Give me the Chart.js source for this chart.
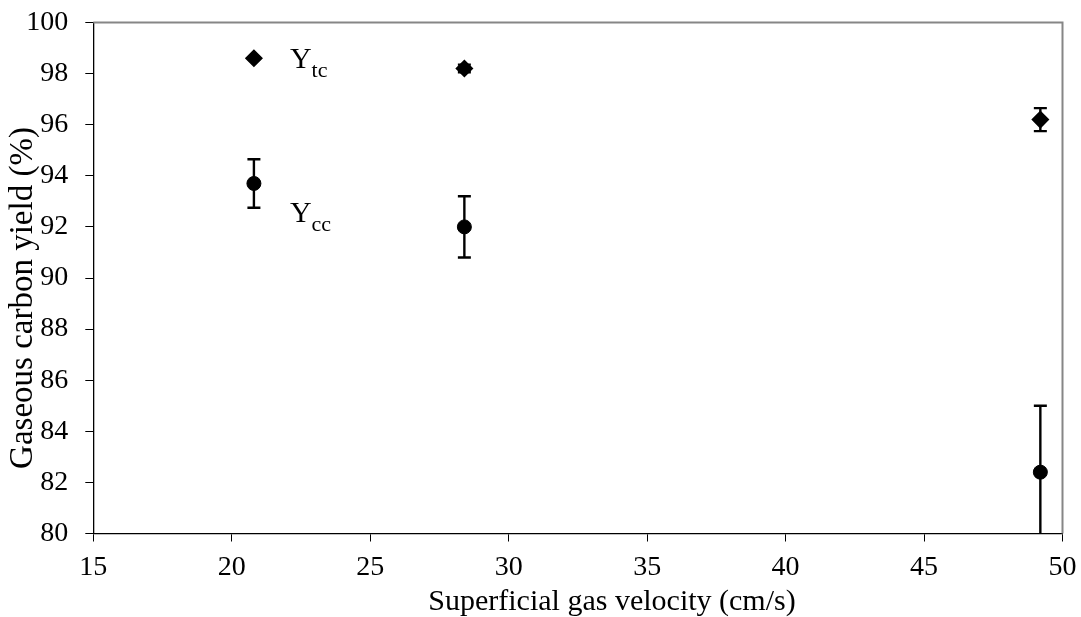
<!DOCTYPE html>
<html lang="en">
<head>
<meta charset="UTF-8">
<title>Gaseous carbon yield</title>
<script src="https://cdn.jsdelivr.net/npm/chart.js"></script>
<style>
    body { margin: 0; background: #fff; }
    #box { width: 1081px; height: 617px; }
</style>
</head>
<body>
<div id="box"><canvas id="grafico" width="1081" height="617"></canvas></div>

<script>
    // superficial gas velocity (cm/s)
    var velocidade = [20.8, 28.4, 49.2];
    // total carbon yield Ytc (%) and its error
    var ytc = [98.6, 98.2, 96.2];
    var ytcErro = [0, 0.15, 0.45];
    // carbon yield Ycc (%) and its error
    var ycc = [93.7, 92.0, 82.4];
    var yccErro = [0.95, 1.2, 2.6];

    var ticksX = [15, 20, 25, 30, 35, 40, 45, 50];
    var ticksY = [80, 82, 84, 86, 88, 90, 92, 94, 96, 98, 100];

    // where the series names sit, in axis units
    var rotulos = [
        { base: 'Y', sub: 'tc', x: 22.1, y: 98.22 },
        { base: 'Y', sub: 'cc', x: 22.1, y: 92.2 }
    ];

    var fonte = 'Liberation Serif, Times New Roman, serif';
    var tituloX = 'Superficial gas velocity (cm/s)';
    var tituloY = 'Gaseous carbon yield (%)';

    function pontos(ys, erros) {
        var out = [];
        for (var i = 0; i < velocidade.length; i++) {
            out.push({ x: velocidade[i], y: ys[i], err: erros[i] });
        }
        return out;
    }

    // error bars under the markers, frame and titles on top
    var extras = {
        id: 'extras',
        beforeDatasetsDraw: function (chart) {
            var ctx = chart.ctx, sx = chart.scales.x, sy = chart.scales.y, a = chart.chartArea;
            ctx.save();
            ctx.beginPath();
            ctx.rect(a.left, a.top - 10, a.right - a.left, a.bottom - a.top + 10);
            ctx.clip();
            ctx.strokeStyle = '#000';
            ctx.lineWidth = 2.4;
            chart.data.datasets.forEach(function (ds) {
                ds.data.forEach(function (p) {
                    if (!p.err) return;
                    var px = sx.getPixelForValue(p.x);
                    var top = sy.getPixelForValue(p.y + p.err);
                    var bot = sy.getPixelForValue(p.y - p.err);
                    ctx.beginPath();
                    ctx.moveTo(px, top); ctx.lineTo(px, bot);
                    ctx.moveTo(px - 6.5, top); ctx.lineTo(px + 6.5, top);
                    ctx.moveTo(px - 6.5, bot); ctx.lineTo(px + 6.5, bot);
                    ctx.stroke();
                });
            });
            ctx.restore();
        },
        afterDraw: function (chart) {
            var ctx = chart.ctx, a = chart.chartArea, sx = chart.scales.x, sy = chart.scales.y;
            ctx.save();
            // gray frame on top and right
            ctx.strokeStyle = '#868686';
            ctx.lineWidth = 2;
            ctx.beginPath();
            ctx.moveTo(a.left, a.top);
            ctx.lineTo(a.right, a.top);
            ctx.lineTo(a.right, a.bottom);
            ctx.stroke();

            ctx.fillStyle = '#000';
            // axis titles
            ctx.textAlign = 'center';
            ctx.textBaseline = 'middle';
            ctx.font = '30px ' + fonte;
            ctx.fillText(tituloX, 612, 602);
            ctx.font = '33px ' + fonte;
            ctx.translate(23, 298);
            ctx.rotate(-Math.PI / 2);
            ctx.fillText(tituloY, 0, 0);
            ctx.setTransform(1, 0, 0, 1, 0, 0);

            // series names with subscripts
            ctx.textBaseline = 'alphabetic';
            ctx.textAlign = 'left';
            rotulos.forEach(function (r) {
                var x = sx.getPixelForValue(r.x), y = sy.getPixelForValue(r.y);
                ctx.font = '30px ' + fonte;
                ctx.fillText(r.base, x, y);
                var w = ctx.measureText(r.base).width;
                ctx.font = '22px ' + fonte;
                ctx.fillText(r.sub, x + w, y + 9);
            });
            ctx.restore();
        }
    };

    var dados = {
        datasets: [
            {
                label: 'Ytc',
                data: pontos(ytc, ytcErro),
                pointStyle: 'rectRot',
                pointRadius: 8,
                backgroundColor: '#000',
                borderColor: '#000',
                borderWidth: 1.5,
                showLine: false
            },
            {
                label: 'Ycc',
                data: pontos(ycc, yccErro),
                pointStyle: 'circle',
                pointRadius: 7,
                backgroundColor: '#000',
                borderColor: '#000',
                borderWidth: 1,
                showLine: false
            }
        ]
    };

    const config = {
        type: 'scatter',
        data: dados,
        options: {
            responsive: false,
            animation: false,
            layout: { padding: { top: 22.5, right: 18.5, left: 0, bottom: 0 } },
            plugins: {
                legend: { display: false },
                tooltip: { enabled: false }
            },
            scales: {
                x: {
                    type: 'linear',
                    min: 15,
                    max: 50,
                    afterBuildTicks: function (s) { s.ticks = ticksX.map(function (v) { return { value: v }; }); },
                    afterFit: function (s) { s.height = 83.5; s.paddingLeft = 0; s.paddingRight = 0; },
                    grid: { drawOnChartArea: false, drawTicks: true, tickLength: 8, color: '#000', tickWidth: 1 },
                    border: { display: true, color: '#000', width: 1.3 },
                    ticks: { color: '#000', padding: 9, font: { family: fonte, size: 28 }, maxRotation: 0 }
                },
                y: {
                    type: 'linear',
                    min: 80,
                    max: 100,
                    afterBuildTicks: function (s) { s.ticks = ticksY.map(function (v) { return { value: v }; }); },
                    afterFit: function (s) { s.width = 93.3; s.paddingTop = 0; s.paddingBottom = 0; },
                    grid: { drawOnChartArea: false, drawTicks: true, tickLength: 8, color: '#000', tickWidth: 1 },
                    border: { display: true, color: '#000', width: 1.3 },
                    ticks: { color: '#000', padding: 17, font: { family: fonte, size: 28 } }
                }
            }
        },
        plugins: [extras]
    };

    let grafico = new Chart(document.getElementById('grafico'), config);
</script>
</body>
</html>
